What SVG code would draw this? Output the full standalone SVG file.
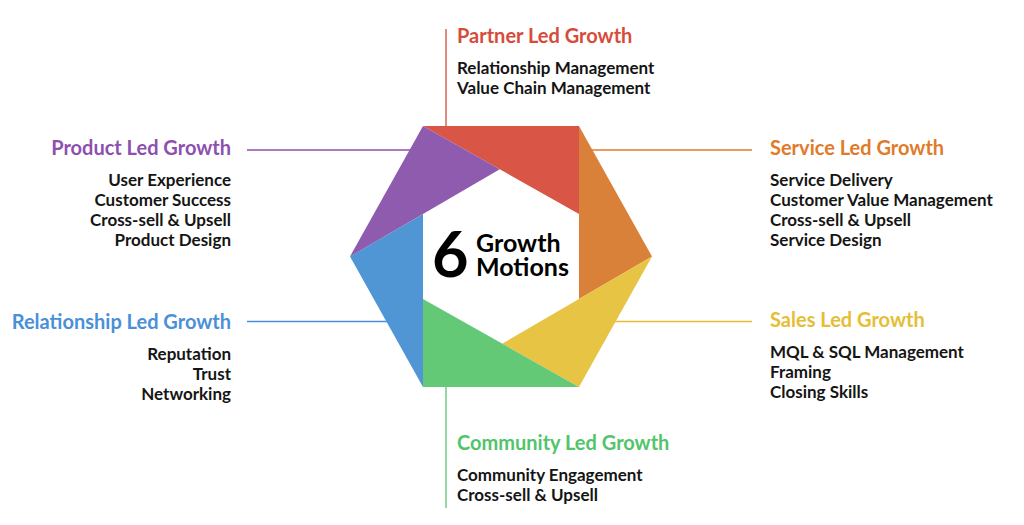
<svg xmlns="http://www.w3.org/2000/svg" width="1024" height="525" viewBox="0 0 1024 525">
<style>
.t{font-family:Lato,"Open Sans","Liberation Sans",sans-serif;font-weight:700;font-size:20px}
.i{font-family:Lato,"Open Sans","Liberation Sans",sans-serif;font-weight:700;font-size:17px;fill:#151515}
.r{text-anchor:end}
.c{font-family:Lato,"Open Sans","Liberation Sans",sans-serif;font-weight:700;fill:#000}
line{stroke-width:1.3}
</style>
<rect width="1024" height="525" fill="#fff"/>
<g id="connectors">
<line x1="446" y1="29" x2="446" y2="127" stroke="#D64C3B"/>
<line x1="446" y1="386" x2="446" y2="508" stroke="#5CC56E"/>
<line x1="247" y1="150" x2="414" y2="150" stroke="#8E4FB0"/>
<line x1="588" y1="150" x2="752" y2="150" stroke="#E07B2A"/>
<line x1="247" y1="321.5" x2="414" y2="321.5" stroke="#4A90D9"/>
<line x1="588" y1="321.5" x2="752" y2="321.5" stroke="#E5BE35"/>
</g>
<g id="hexagon">
<polygon points="423,126 579,126 579,214" fill="#D95646"/>
<polygon points="579,126 652,256.5 579,299" fill="#D98139"/>
<polygon points="652,256.5 579,387 502.2,343.7" fill="#E8C444"/>
<polygon points="579,387 423,387 423,299" fill="#63C977"/>
<polygon points="423,387 350,256.5 423,214" fill="#5096D5"/>
<polygon points="350,256.5 423,126 499.8,169.3" fill="#8E5BAF"/>
<text class="c" x="432" y="277" font-size="63">6</text>
<text class="c" font-size="25"><tspan x="476" y="252">Growth</tspan><tspan x="476" y="276">Motions</tspan></text>
</g>
<g id="partner">
<text class="t" x="457" y="43" fill="#D64C3B">Partner Led Growth</text>
<text class="i" x="457" y="74">Relationship Management</text>
<text class="i" x="457" y="94">Value Chain Management</text>
</g>
<g id="product">
<text class="t r" x="231" y="155" fill="#8E4FB0">Product Led Growth</text>
<text class="i r" x="231" y="186">User Experience</text>
<text class="i r" x="231" y="206">Customer Success</text>
<text class="i r" x="231" y="226">Cross-sell &amp; Upsell</text>
<text class="i r" x="231" y="246">Product Design</text>
</g>
<g id="service">
<text class="t" x="770" y="155" fill="#E07B2A">Service Led Growth</text>
<text class="i" x="770" y="186">Service Delivery</text>
<text class="i" x="770" y="206">Customer Value Management</text>
<text class="i" x="770" y="226">Cross-sell &amp; Upsell</text>
<text class="i" x="770" y="246">Service Design</text>
</g>
<g id="relationship">
<text class="t r" x="231" y="329" fill="#4A90D9">Relationship Led Growth</text>
<text class="i r" x="231" y="360">Reputation</text>
<text class="i r" x="231" y="380">Trust</text>
<text class="i r" x="231" y="400">Networking</text>
</g>
<g id="sales">
<text class="t" x="770" y="327" fill="#E5BE35">Sales Led Growth</text>
<text class="i" x="770" y="358">MQL &amp; SQL Management</text>
<text class="i" x="770" y="378">Framing</text>
<text class="i" x="770" y="398">Closing Skills</text>
</g>
<g id="community">
<text class="t" x="457" y="450" fill="#52C46A">Community Led Growth</text>
<text class="i" x="457" y="481">Community Engagement</text>
<text class="i" x="457" y="501">Cross-sell &amp; Upsell</text>
</g>
</svg>
